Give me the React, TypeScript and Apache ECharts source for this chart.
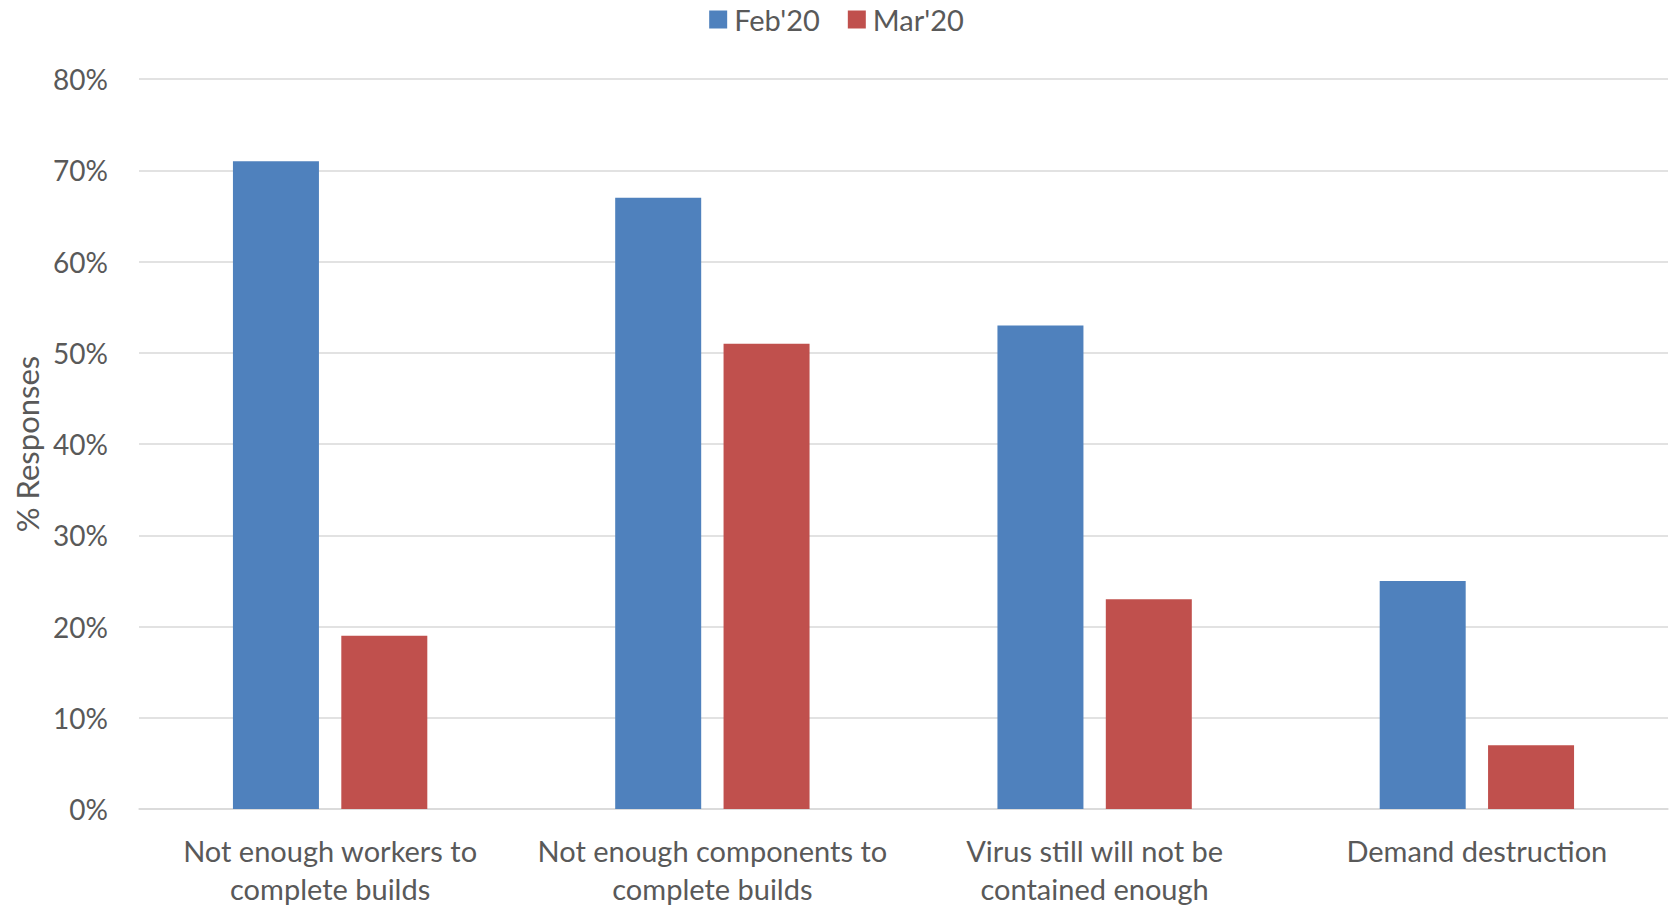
import React, { useEffect, useRef } from "react";
import * as echarts from "echarts";

const categories = [
  "Not enough workers to\ncomplete builds",
  "Not enough components to\ncomplete builds",
  "Virus still will not be\ncontained enough",
  "Demand destruction",
];
const feb20 = [71, 67, 53, 25];
const mar20 = [19, 51, 23, 7];
const seriesNames = ["Feb'20", "Mar'20"];
const yTicks = { min: 0, max: 80, interval: 10 };

const FONT = "Lato";
const TEXT = "#595959";
const GRID = "#D9D9D9";

export default function App() {
  const ref = useRef<HTMLDivElement>(null);
  useEffect(() => {
    if (!ref.current) return;
    const chart = echarts.init(ref.current, undefined, { renderer: "svg" });
    chart.setOption({
      animation: false,
      textStyle: { fontFamily: FONT, color: TEXT },
      legend: {
        top: 0,
        left: "center",
        itemWidth: 18,
        itemHeight: 18,
        itemGap: 28,
        icon: "rect",
        textStyle: { fontFamily: FONT, fontSize: 29, color: TEXT, padding: [0, 0, 0, 2] },
        data: seriesNames,
      },
      grid: { left: 139, right: 5, top: 79, bottom: 96, containLabel: false },
      xAxis: {
        type: "category",
        data: categories,
        axisLine: { lineStyle: { color: GRID, width: 1.5 } },
        axisTick: { show: false },
        axisLabel: {
          fontFamily: FONT,
          fontSize: 29,
          color: TEXT,
          lineHeight: 38,
          margin: 22,
          interval: 0,
        },
      },
      yAxis: {
        type: "value",
        min: yTicks.min,
        max: yTicks.max,
        interval: yTicks.interval,
        name: "% Responses",
        nameLocation: "middle",
        nameRotate: 90,
        nameGap: 96,
        nameTextStyle: { fontFamily: FONT, fontSize: 31, color: TEXT },
        axisLine: { show: false },
        axisTick: { show: false },
        axisLabel: {
          fontFamily: FONT,
          fontSize: 28,
          color: TEXT,
          margin: 31,
          formatter: (v: number) => `${v}%`,
        },
        splitLine: { lineStyle: { color: GRID, width: 1.5 } },
      },
      series: [
        {
          name: seriesNames[0],
          type: "bar",
          data: feb20,
          barWidth: 86,
          barGap: "26%",
          itemStyle: { color: "#4F81BD" },
        },
        {
          name: seriesNames[1],
          type: "bar",
          data: mar20,
          barWidth: 86,
          barGap: "26%",
          itemStyle: { color: "#C0504D" },
        },
      ],
    });
    return () => chart.dispose();
  }, []);
  return (
    <div
      ref={ref}
      style={{ position: "absolute", left: 0, top: 0, width: 1673, height: 907 }}
    />
  );
}
